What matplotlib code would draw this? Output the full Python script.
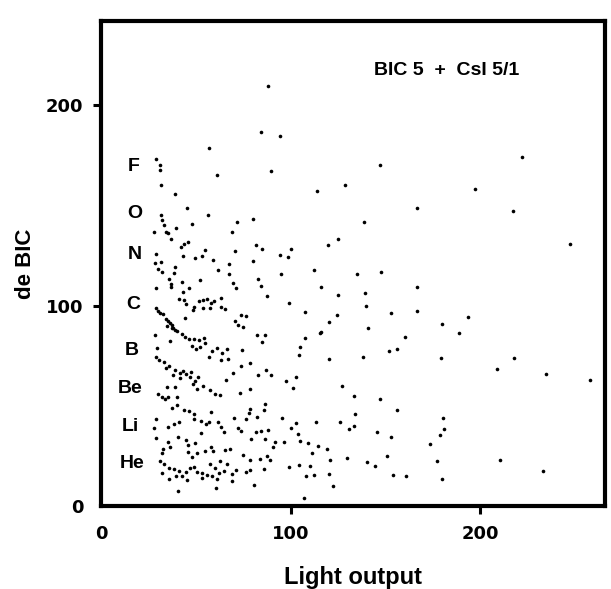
import matplotlib
matplotlib.use("Agg")
import matplotlib.pyplot as plt

# Light output vs. energy loss in the Bragg ionisation chamber
light_output = [
    28.6, 30.8, 30.8, 31.6, 38.8, 60.8, 89.8, 114.0, 45.1, 56.1,
    31.2, 32.1, 33.0, 34.0, 27.8, 34.9, 39.2, 47.9, 36.5, 45.6,
    43.8, 42.1, 71.7, 79.9, 68.9, 81.4, 85.0, 70.7, 54.9, 52.9,
    49.3, 43.1, 59.0, 29.0, 28.2, 31.3, 30.1, 31.9, 38.9, 38.1,
    61.8, 67.5, 79.8, 94.5, 98.6, 100.3, 119.9, 67.5, 52.3, 35.5,
    36.5, 36.9, 42.7, 28.6, 42.8, 46.2, 82.7, 69.6, 70.9, 84.1,
    87.7, 94.8, 112.3, 116.1, 43.7, 41.1, 44.7, 49.1, 48.3, 51.7,
    53.4, 56.0, 53.6, 57.9, 59.6, 63.1, 65.0, 63.2, 57.4, 28.9,
    29.8, 32.5, 34.3, 36.1, 38.0, 39.8, 44.0, 73.9, 76.6, 70.4,
    72.3, 74.9, 98.9, 107.7, 120.1, 31.0, 35.2, 37.0, 39.0,
    34.4, 37.1, 42.5, 44.2, 46.1, 28.4, 36.4, 48.7, 51.4, 54.0,
    54.9, 52.3, 49.7, 47.9, 61.1, 63.8, 66.4, 58.6, 56.9, 63.0,
    66.6, 74.4, 82.1, 86.5, 84.8, 107.6, 115.5, 104.8, 104.4, 120.3,
    29.5, 28.7, 30.5, 33.2, 35.9, 38.6, 41.3, 43.0, 44.8, 46.6,
    49.3, 51.0, 34.1, 37.8, 41.3, 48.5, 50.3, 53.8, 57.3, 60.0,
    62.7, 47.4, 69.4, 73.7, 78.4, 82.6, 87.0, 89.7, 102.9, 97.7,
    101.3, 73.2, 78.5, 65.6,
    30.1, 31.9, 33.7, 35.4, 39.8, 38.8, 34.4, 39.9, 37.3, 43.5,
    46.2, 48.9, 57.7, 78.7, 77.9, 86.6, 85.8, 95.6, 28.7, 27.9,
    29.0, 35.0, 38.4, 40.4, 41.1, 48.9, 52.5, 55.2, 56.9, 61.3,
    63.1, 64.9, 52.6, 44.8, 45.8, 70.1, 71.9, 73.8, 76.2, 82.4,
    81.7, 84.3, 87.8, 102.7, 113.3, 100.1, 79.1, 86.2, 91.5, 96.4,
    103.7, 104.7, 109.1, 114.4, 118.9, 32.6, 31.8, 35.2, 36.1, 45.9,
    47.7, 50.3, 49.3, 54.6, 58.1, 59.0, 65.2, 67.8, 74.9, 78.6,
    83.8, 87.3, 89.1, 90.7, 98.9, 104.1, 110.3, 111.0, 107.8, 120.1,
    120.8,
    31.0, 32.8, 35.5, 38.2, 40.9, 44.4, 47.0, 48.7, 50.6, 53.2,
    55.9, 58.6, 61.2, 62.0, 62.7, 57.5, 60.2, 32.1, 35.7, 39.2,
    42.7, 45.4, 64.6, 69.1, 69.2, 66.3, 70.8, 76.1, 78.7, 80.6,
    85.7, 40.3, 60.5, 53.3, 107.2,
    88.0, 84.2, 94.5, 56.6, 146.9, 128.4, 222.2, 197.1, 166.5, 138.7,
    217.6, 124.7, 247.7, 134.9, 147.6, 125.0, 139.0, 166.8, 124.6,
    139.8, 153.1, 166.7, 115.7, 141.0, 160.4, 180.1, 189.1, 193.6,
    138.2, 156.2, 151.9, 179.6, 217.9, 208.8, 234.9, 258.2, 127.1, 133.5,
    147.3, 156.1, 133.7, 133.5, 130.9, 126.1, 180.6, 181.1, 179.0, 145.6,
    153.1, 173.4, 129.6, 150.7, 140.2, 144.3, 177.3, 210.7, 112.2, 153.9,
    161.0, 122.1, 180.0, 233.1,
]

de_bic = [
    173.1, 170.3, 167.5, 160.3, 155.8, 165.4, 167.2, 157.0, 148.9, 145.1,
    145.1, 142.7, 140.2, 136.9, 136.7, 136.1, 138.7, 140.6, 133.1, 131.7,
    130.9, 129.2, 141.7, 143.4, 136.8, 130.5, 128.2, 127.5, 128.0, 124.9,
    123.9, 124.9, 123.1, 125.8, 121.6, 121.7, 118.3, 117.1, 119.4, 116.3,
    118.1, 121.1, 122.4, 125.3, 124.3, 128.4, 130.4, 116.1, 113.1, 113.4,
    110.9, 109.3, 112.0, 109.0, 106.9, 108.7, 113.3, 111.6, 109.0, 109.9,
    105.0, 116.1, 117.9, 109.3, 102.8, 103.2, 101.1, 99.6, 97.8, 102.2,
    103.1, 103.3, 98.9, 101.6, 102.5, 103.7, 98.4, 99.2, 99.0, 98.9,
    97.3, 95.7, 93.3, 91.6, 89.2, 87.5, 93.9, 95.4, 95.1, 92.7,
    90.3, 89.5, 101.2, 96.7, 91.8, 96.5, 92.5, 90.4, 88.0,
    89.9, 88.8, 86.0, 84.4, 83.6, 85.5, 82.4, 83.6, 82.8, 83.8,
    81.3, 79.6, 78.6, 80.2, 79.0, 76.6, 78.3, 77.3, 74.7, 73.1,
    73.3, 77.8, 85.6, 85.7, 82.2, 83.8, 86.6, 79.5, 75.3, 73.3,
    78.8, 74.6, 73.0, 72.2, 69.8, 68.2, 66.6, 67.5, 65.9, 64.3,
    62.7, 64.4, 68.9, 65.6, 64.1, 61.0, 58.5, 60.3, 57.9, 56.3,
    55.5, 66.8, 66.6, 70.2, 71.6, 65.4, 68.1, 65.6, 64.4, 62.5,
    59.3, 56.7, 58.6, 63.2,
    56.2, 54.5, 53.8, 54.7, 54.8, 59.8, 59.7, 50.6, 48.9, 48.2,
    47.4, 45.9, 47.0, 48.5, 46.8, 51.3, 47.9, 44.0, 43.6, 39.3,
    34.3, 39.5, 41.3, 34.7, 42.3, 43.4, 42.6, 41.0, 41.9, 42.1,
    39.6, 37.2, 36.8, 33.1, 30.7, 44.0, 39.0, 37.5, 43.4, 44.4,
    36.9, 37.8, 37.9, 41.7, 42.1, 39.1, 33.4, 33.6, 32.1, 32.3,
    35.9, 32.5, 31.8, 30.3, 28.8, 28.6, 26.9, 32.0, 29.5, 27.3,
    24.8, 26.6, 31.6, 27.6, 29.4, 27.7, 28.3, 28.9, 25.7, 23.3,
    23.5, 25.3, 23.3, 29.6, 19.8, 20.5, 20.2, 26.9, 15.0, 16.3,
    23.0,
    22.6, 21.0, 19.4, 18.7, 17.9, 17.2, 19.0, 19.8, 17.4, 16.6,
    15.9, 15.1, 13.5, 16.9, 22.8, 21.0, 19.4, 16.8, 13.6, 15.3,
    15.4, 13.0, 17.8, 16.3, 12.9, 21.3, 18.0, 17.4, 18.3, 10.8,
    18.5, 7.8, 9.4, 14.1, 4.1,
    209.4, 186.6, 184.8, 178.5, 170.2, 160.1, 174.2, 158.3, 148.7, 141.9,
    147.3, 133.4, 130.8, 116.1, 117.1, 105.3, 106.6, 109.6, 95.3,
    100.0, 96.2, 97.5, 86.9, 89.1, 84.4, 91.2, 86.5, 94.2,
    74.7, 78.7, 77.4, 73.9, 73.9, 68.3, 65.8, 63.1, 60.1, 55.3,
    53.7, 48.3, 46.1, 40.2, 38.4, 42.0, 44.2, 38.4, 35.8, 37.2,
    34.5, 30.9, 24.4, 25.1, 22.3, 20.1, 22.8, 23.0, 15.7, 15.6,
    15.1, 10.1, 13.5, 17.7,
]

# Isotope bands, labelled by element (x, y in axes fraction)
elements = ["F", "O", "N", "C", "B", "Be", "Li", "He"]
element_pos = [(0.063, 0.700), (0.067, 0.604), (0.067, 0.518), (0.063, 0.415),
               (0.060, 0.322), (0.057, 0.242), (0.057, 0.164), (0.060, 0.089)]

x_ticks = [0, 100, 200]
y_ticks = [0, 100, 200]

fig = plt.figure(figsize=(6.11, 5.89), dpi=100)
ax = fig.add_axes([0.1661, 0.1401, 0.8241, 0.8243])

ax.plot(light_output, de_bic, "o", color="black", ms=2.6, mec="none")

ax.set_xlim(0, 266)
ax.set_ylim(0, 242)
ax.set_xticks(x_ticks)
ax.set_yticks(y_ticks)
ax.set_xticklabels([str(v) for v in x_ticks])
ax.set_yticklabels([str(v) for v in y_ticks])

for s in ax.spines.values():
    s.set_linewidth(3.0)
ax.tick_params(direction="out", length=6, width=2.2, pad=7, labelsize=13)
for lab in ax.get_xticklabels() + ax.get_yticklabels():
    lab.set_fontfamily("DejaVu Sans")
    lab.set_fontweight("heavy")
ax.xaxis.get_major_ticks()[0].tick1line.set_visible(False)
ax.yaxis.get_major_ticks()[0].tick1line.set_visible(False)

font = "Liberation Sans"
ax.set_xlabel("Light output", fontsize=17, fontfamily=font, fontweight="bold", labelpad=17)
ax.set_ylabel("de BIC", fontsize=16, fontfamily=font, fontweight="bold", labelpad=7)

ax.text(0.685, 0.897, "BIC 5  +  CsI 5/1", transform=ax.transAxes, ha="center",
        va="center", fontsize=14, fontfamily=font, fontweight="bold")

for name, (fx, fy) in zip(elements, element_pos):
    ax.text(fx, fy, name, transform=ax.transAxes, ha="center", va="center",
            fontsize=14, fontfamily=font, fontweight="bold")

fig.savefig("out.png", dpi=100, facecolor="white")
